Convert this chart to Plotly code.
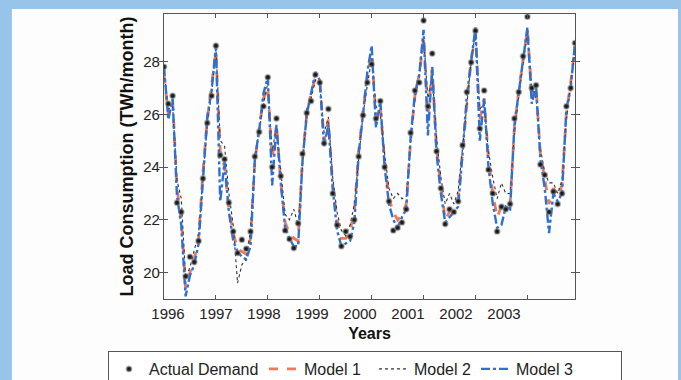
import plotly.graph_objects as go

# Monthly series, Jan 1996 .. Dec 2003 (TWh/month)
months = [1996 + i / 12 for i in range(96)]

actual = [
    27.8, 26.4, 26.7, 22.65, 22.3, 19.86, 20.6, 20.4, 21.2, 23.57, 25.67, 26.7,
    28.6, 24.45, 24.3, 22.65, 21.56, 20.74, 21.25, 20.9, 21.56, 24.4, 25.33, 26.3,
    27.4, 24.0, 25.84, 23.66, 21.6, 21.27, 20.93, 21.87, 24.5, 26.05, 26.5, 27.5,
    27.2, 24.9, 26.2, 23.0, 21.8, 21.0, 21.56, 21.37, 22.0, 24.4, 25.96, 27.2,
    27.9, 25.84, 26.5, 24.0, 22.7, 21.6, 21.7, 21.9, 22.4, 25.3, 26.9, 27.2,
    29.55, 26.3, 28.3, 24.6, 23.2, 21.84, 22.4, 22.3, 22.7, 24.83, 26.84, 27.97,
    29.17, 25.46, 26.9, 23.9, 23.0, 21.56, 22.5, 22.4, 22.6, 25.84, 26.84, 28.2,
    29.7, 27.0, 27.1, 24.1, 23.7, 22.3, 23.07, 22.6, 23.0, 26.3, 27.0, 28.7,
]

model1 = [
    27.5, 26.0, 26.5, 23.2, 22.0, 19.4, 20.0, 20.5, 21.3, 23.8, 25.8, 27.0,
    28.4, 24.6, 24.0, 22.4, 21.5, 20.9, 20.8, 20.7, 21.3, 24.2, 25.5, 26.6,
    27.0, 24.3, 25.6, 23.4, 21.9, 21.5, 21.3, 21.2, 24.3, 26.0, 26.8, 27.4,
    27.3, 25.0, 25.8, 23.3, 22.0, 21.3, 21.3, 21.6, 22.3, 24.6, 26.1, 27.4,
    28.3, 25.9, 26.3, 24.2, 22.8, 22.3, 22.0, 22.2, 22.6, 25.0, 26.7, 27.5,
    28.9, 26.0, 27.7, 24.7, 23.3, 22.0, 22.3, 22.5, 22.8, 24.6, 26.6, 28.1,
    29.0, 25.8, 26.6, 24.3, 23.0, 22.1, 22.5, 22.7, 22.6, 25.5, 26.9, 28.0,
    29.2, 26.8, 27.0, 24.5, 23.5, 22.6, 23.2, 22.9, 23.3, 26.0, 27.2, 28.6,
]

model2 = [
    27.6, 26.2, 26.3, 23.5, 22.8, 19.8, 20.2, 20.8, 21.5, 23.6, 25.6, 26.8,
    28.5, 25.0, 24.8, 23.0, 21.8, 19.6, 20.3, 20.5, 21.6, 24.3, 25.4, 26.4,
    27.2, 24.6, 25.5, 23.8, 22.2, 22.0, 22.4, 21.8, 24.2, 26.2, 26.6, 27.3,
    27.1, 25.3, 25.9, 23.6, 22.3, 21.6, 21.4, 21.8, 22.6, 24.2, 26.0, 27.1,
    28.1, 26.3, 26.0, 24.5, 23.2, 22.8, 23.0, 22.8, 22.9, 24.9, 26.6, 27.4,
    28.9, 26.6, 27.5, 25.1, 23.6, 22.6, 23.0, 22.6, 23.1, 24.7, 26.5, 28.0,
    29.1, 26.2, 26.4, 24.6, 23.6, 22.8, 23.4, 23.0, 23.0, 25.3, 26.7, 28.0,
    29.1, 27.0, 26.6, 24.7, 23.8, 23.4, 23.4, 23.0, 23.5, 25.8, 27.0, 28.4,
]

model3 = [
    27.8, 25.8, 26.6, 22.9, 21.8, 19.1, 19.9, 20.3, 21.1, 23.7, 25.9, 26.9,
    28.6, 22.7, 24.2, 22.3, 21.2, 20.8, 20.6, 20.5, 21.0, 24.3, 25.4, 26.8,
    27.4, 23.3, 25.6, 23.4, 21.7, 21.3, 21.0, 21.0, 24.2, 26.0, 26.8, 27.6,
    27.3, 24.8, 25.6, 23.2, 21.6, 21.0, 21.1, 21.2, 21.9, 24.5, 26.0, 27.6,
    28.6, 25.5, 26.5, 24.0, 22.6, 22.0, 21.7, 22.1, 22.4, 25.1, 26.8, 27.5,
    29.2, 25.2, 27.8, 24.5, 23.0, 21.9, 22.1, 22.3, 22.5, 24.5, 26.7, 28.0,
    29.3, 25.0, 26.6, 24.0, 22.6, 21.7, 21.8, 22.5, 22.4, 25.6, 26.8, 28.2,
    29.3, 26.4, 27.1, 24.3, 23.2, 21.5, 23.0, 22.7, 23.0, 26.2, 27.0, 28.7,
]

year_ticks = list(range(1996, 2005))
year_labels = [str(y) for y in range(1996, 2004)]
y_ticks = [20, 22, 24, 26, 28]

FONT = "Liberation Sans, Arial, Helvetica, sans-serif"

fig = go.Figure()
fig.add_trace(go.Scatter(x=months, y=model1, mode="lines", name="Model 1",
                         line=dict(color="#f2785a", width=2.8, dash="dash"),
                         legendrank=2, legendwidth=65))
fig.add_trace(go.Scatter(x=months, y=model2, mode="lines", name="Model 2",
                         line=dict(color="#333333", width=1.1, dash="dot"),
                         legendrank=3, legendwidth=57))
fig.add_trace(go.Scatter(x=months, y=model3, mode="lines", name="Model 3",
                         line=dict(color="#2d6fd2", width=2.4, dash="dashdot"),
                         legendrank=4, legendwidth=100))
fig.add_trace(go.Scatter(x=months, y=actual, mode="markers", name="Actual Demand",
                         marker=dict(symbol="circle", size=5, color="#1a1a1a",
                                     line=dict(color="rgba(130,130,130,0.5)", width=1.8)),
                         legendrank=1, legendwidth=110))
# carrier for the label axis
fig.add_trace(go.Scatter(x=[1996], y=[None], xaxis="x2", showlegend=False,
                         hoverinfo="skip", mode="markers"))

fig.update_layout(
    width=681, height=380,
    margin=dict(l=164, r=106, t=14, b=81, autoexpand=False),
    paper_bgcolor="#98c4ea",
    plot_bgcolor="white",
    font=dict(family=FONT, color="#222222"),
    showlegend=True,
    legend=dict(orientation="h", x=-0.1363, y=-0.1825, xanchor="left", yanchor="top",
                bordercolor="#555555", borderwidth=1, bgcolor="white",
                font=dict(size=16, family=FONT, color="#222222"),
                traceorder="normal"),
    xaxis=dict(range=[1996, 1996 + 95 / 12], tickvals=year_ticks, showticklabels=False,
               ticks="inside", ticklen=4, tickcolor="#555555", mirror="allticks",
               showline=True, linecolor="#555555", linewidth=1.2, showgrid=False,
               zeroline=False, automargin=False),
    xaxis2=dict(overlaying="x", side="bottom", range=[1995.9167, 2004.479],
                tickvals=list(range(1996, 2004)), ticktext=year_labels,
                ticks="", showline=False, showgrid=False, zeroline=False,
                automargin=False, ticklabelstandoff=4,
                tickfont=dict(size=15, family=FONT, color="#222222"),
                title=dict(text="<b>Years</b>", font=dict(size=16, family=FONT, color="#111111"),
                           standoff=6)),
    yaxis=dict(range=[19.0, 29.8], tickvals=y_ticks, ticks="inside", ticklen=4,
               tickcolor="#555555", mirror="allticks", showline=True, linecolor="#555555",
               linewidth=1.2, showgrid=False, zeroline=False, automargin=False,
               tickfont=dict(size=15, family=FONT, color="#222222"),
               title=dict(text="<b>Load Consumption (TWh/month)</b>",
                          font=dict(size=18, family=FONT, color="#111111"), standoff=4)),
    shapes=[dict(type="rect", xref="paper", yref="paper", x0=-0.370, x1=1.2506,
                 y0=-0.30, y1=1.0175, fillcolor="#fdfdfd", line=dict(width=0),
                 layer="below")],
)

fig.write_html("out.html")
